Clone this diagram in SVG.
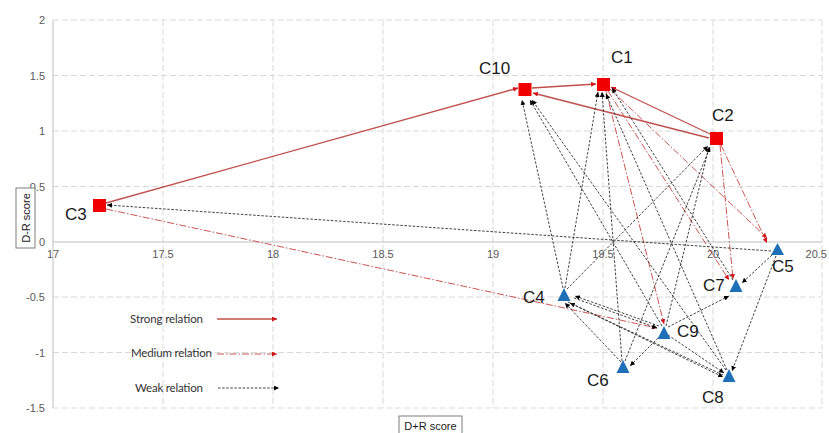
<svg xmlns="http://www.w3.org/2000/svg" width="829" height="433" viewBox="0 0 829 433">
<style>
.bg{fill:#fff}
.grid{stroke:#d9d9d9;stroke-width:1;stroke-dasharray:6,3;fill:none}
.axis{stroke:#bfbfbf;stroke-width:1;fill:none}
.tick{font-family:"Liberation Sans",Arial,sans-serif;font-size:11px;fill:#595959}
.ytick{text-anchor:end}
.xtick{text-anchor:middle}
.lbl{font-family:"Liberation Sans",Arial,sans-serif;font-size:17px;fill:#1a1a1a}
.box{fill:#fff;stroke:#7f7f7f;stroke-width:1}
.title{font-family:"Liberation Sans",Arial,sans-serif;font-size:11px;fill:#1a1a1a;text-anchor:middle}
.leg{font-family:Lato,"Liberation Sans",sans-serif;font-size:11.5px;fill:#333}
.sq{fill:#f00000}
.tri{fill:#1f6fb6}
.strong{stroke:#c0504d;stroke-width:1.3;fill:none;marker-end:url(#ar)}
.medium{stroke:#c95552;stroke-width:1;fill:none;stroke-dasharray:7,2,1.5,2;marker-end:url(#ar)}
.weak{stroke:#2b2b2b;stroke-width:0.9;fill:none;stroke-dasharray:2.5,1.6;marker-end:url(#ab)}
</style>
<defs>
<marker id="ar" viewBox="0 0 10 10" refX="10" refY="5" markerWidth="5" markerHeight="5" markerUnits="userSpaceOnUse" orient="auto"><path d="M0,0 L10,5 L0,10 z" fill="#d0161a"/></marker>
<marker id="ab" viewBox="0 0 10 10" refX="10" refY="5" markerWidth="5" markerHeight="5" markerUnits="userSpaceOnUse" orient="auto"><path d="M0,0 L10,5 L0,10 z" fill="#000"/></marker>
</defs>
<rect class="bg" x="0" y="0" width="829" height="433"/>
<g id="grid">
<line class="grid" x1="53" y1="20" x2="822" y2="20"/>
<line class="grid" x1="53" y1="75.5" x2="822" y2="75.5"/>
<line class="grid" x1="53" y1="131" x2="822" y2="131"/>
<line class="grid" x1="53" y1="186.5" x2="822" y2="186.5"/>
<line class="grid" x1="53" y1="297" x2="822" y2="297"/>
<line class="grid" x1="53" y1="352.5" x2="822" y2="352.5"/>
<line class="grid" x1="53" y1="408" x2="822" y2="408"/>
<line class="grid" x1="163" y1="20" x2="163" y2="408"/>
<line class="grid" x1="273" y1="20" x2="273" y2="408"/>
<line class="grid" x1="383" y1="20" x2="383" y2="408"/>
<line class="grid" x1="493" y1="20" x2="493" y2="408"/>
<line class="grid" x1="603" y1="20" x2="603" y2="408"/>
<line class="grid" x1="713" y1="20" x2="713" y2="408"/>
<line class="grid" x1="822" y1="20" x2="822" y2="408"/>
<line class="axis" x1="53" y1="20" x2="53" y2="408"/>
<line class="axis" x1="53" y1="242" x2="822" y2="242"/>
</g>
<g id="ticks">
<text class="tick ytick" x="45" y="24">2</text>
<text class="tick ytick" x="45" y="79.5">1.5</text>
<text class="tick ytick" x="45" y="135">1</text>
<text class="tick ytick" x="45" y="190.5">0.5</text>
<text class="tick ytick" x="45" y="246">0</text>
<text class="tick ytick" x="45" y="301">-0.5</text>
<text class="tick ytick" x="45" y="356.5">-1</text>
<text class="tick ytick" x="45" y="412">-1.5</text>
<text class="tick xtick" x="53" y="258">17</text>
<text class="tick xtick" x="163" y="258">17.5</text>
<text class="tick xtick" x="273" y="258">18</text>
<text class="tick xtick" x="383" y="258">18.5</text>
<text class="tick xtick" x="493" y="258">19</text>
<text class="tick xtick" x="603" y="258">19.5</text>
<text class="tick xtick" x="713" y="258">20</text>
<text class="tick" x="827" y="258" text-anchor="end">20.5</text>
</g>
<g id="axis-titles">
<rect class="box" x="16" y="188" width="19" height="60"/>
<text class="title" transform="translate(29.5,218) rotate(-90)">D-R score</text>
<rect class="box" x="399" y="416" width="63" height="20"/>
<text class="title" x="430.5" y="430">D+R score</text>
</g>
<g id="connectors">
<line class="strong" x1="106" y1="203" x2="518" y2="88"/>
<line class="strong" x1="532" y1="88" x2="596" y2="84"/>
<line class="strong" x1="710" y1="134" x2="611" y2="87"/>
<line class="strong" x1="709" y1="138" x2="533" y2="93"/>
<line class="medium" x1="106" y1="209" x2="657" y2="328"/>
<line class="medium" x1="606" y1="91" x2="664" y2="324"/>
<line class="medium" x1="608" y1="91" x2="729" y2="280"/>
<line class="medium" x1="610" y1="89" x2="767" y2="238"/>
<line class="medium" x1="721" y1="145" x2="767" y2="243"/>
<line class="medium" x1="720" y1="145" x2="733" y2="279"/>
<line class="weak" x1="771" y1="251" x2="107" y2="205"/>
<line class="weak" x1="563" y1="288" x2="522" y2="100"/>
<line class="weak" x1="662" y1="326" x2="530" y2="100"/>
<line class="weak" x1="726" y1="370" x2="532" y2="100"/>
<line class="weak" x1="565" y1="288" x2="598" y2="92"/>
<line class="weak" x1="622" y1="361" x2="602" y2="92"/>
<line class="weak" x1="727" y1="370" x2="606" y2="94"/>
<line class="weak" x1="733" y1="280" x2="612" y2="88"/>
<line class="weak" x1="567" y1="289" x2="708" y2="146"/>
<line class="weak" x1="666" y1="326" x2="709" y2="147"/>
<line class="weak" x1="625" y1="361" x2="710" y2="147"/>
<line class="weak" x1="659" y1="326" x2="575" y2="296"/>
<line class="weak" x1="574" y1="298" x2="657" y2="328"/>
<line class="weak" x1="723" y1="375" x2="570" y2="303"/>
<line class="weak" x1="568" y1="302" x2="723" y2="377"/>
<line class="weak" x1="621" y1="362" x2="565" y2="303"/>
<line class="weak" x1="668" y1="327" x2="729" y2="296"/>
<line class="weak" x1="661" y1="335" x2="630" y2="366"/>
<line class="weak" x1="668" y1="335" x2="724" y2="373"/>
<line class="weak" x1="772" y1="255" x2="742" y2="283"/>
<line class="weak" x1="776" y1="256" x2="732" y2="371"/>
</g>
<g id="C1"><rect class="sq" x="597" y="78" width="13" height="13"/><text class="lbl" x="611" y="63">C1</text></g>
<g id="C10"><rect class="sq" x="518.5" y="83" width="13" height="13"/><text class="lbl" x="479" y="74">C10</text></g>
<g id="C2"><rect class="sq" x="710" y="132" width="13" height="13"/><text class="lbl" x="712" y="121">C2</text></g>
<g id="C3"><rect class="sq" x="93" y="199" width="13" height="13"/><text class="lbl" x="65" y="220">C3</text></g>
<g id="C5"><path class="tri" d="M777.5,243 L784,255 L771,255 z"/><text class="lbl" x="772" y="272">C5</text></g>
<g id="C7"><path class="tri" d="M736,279 L742.5,292 L729.5,292 z"/><text class="lbl" x="703" y="291">C7</text></g>
<g id="C4"><path class="tri" d="M564,288 L570.5,301 L557.5,301 z"/><text class="lbl" x="523" y="303">C4</text></g>
<g id="C9"><path class="tri" d="M664,326 L670.5,339 L657.5,339 z"/><text class="lbl" x="677" y="337">C9</text></g>
<g id="C6"><path class="tri" d="M623,360 L629.5,373 L616.5,373 z"/><text class="lbl" x="587" y="386">C6</text></g>
<g id="C8"><path class="tri" d="M729,369 L735.5,382 L722.5,382 z"/><text class="lbl" x="702" y="403">C8</text></g>
<g id="legend">
<text class="leg" x="130" y="323" textLength="73">Strong relation</text>
<line class="strong" x1="217" y1="319" x2="277" y2="319"/>
<text class="leg" x="131" y="357" textLength="81">Medium relation</text>
<line class="medium" x1="217" y1="354" x2="277" y2="354"/>
<text class="leg" x="135" y="392" textLength="68">Weak relation</text>
<line class="weak" x1="218" y1="388" x2="279" y2="388"/>
</g>
</svg>
